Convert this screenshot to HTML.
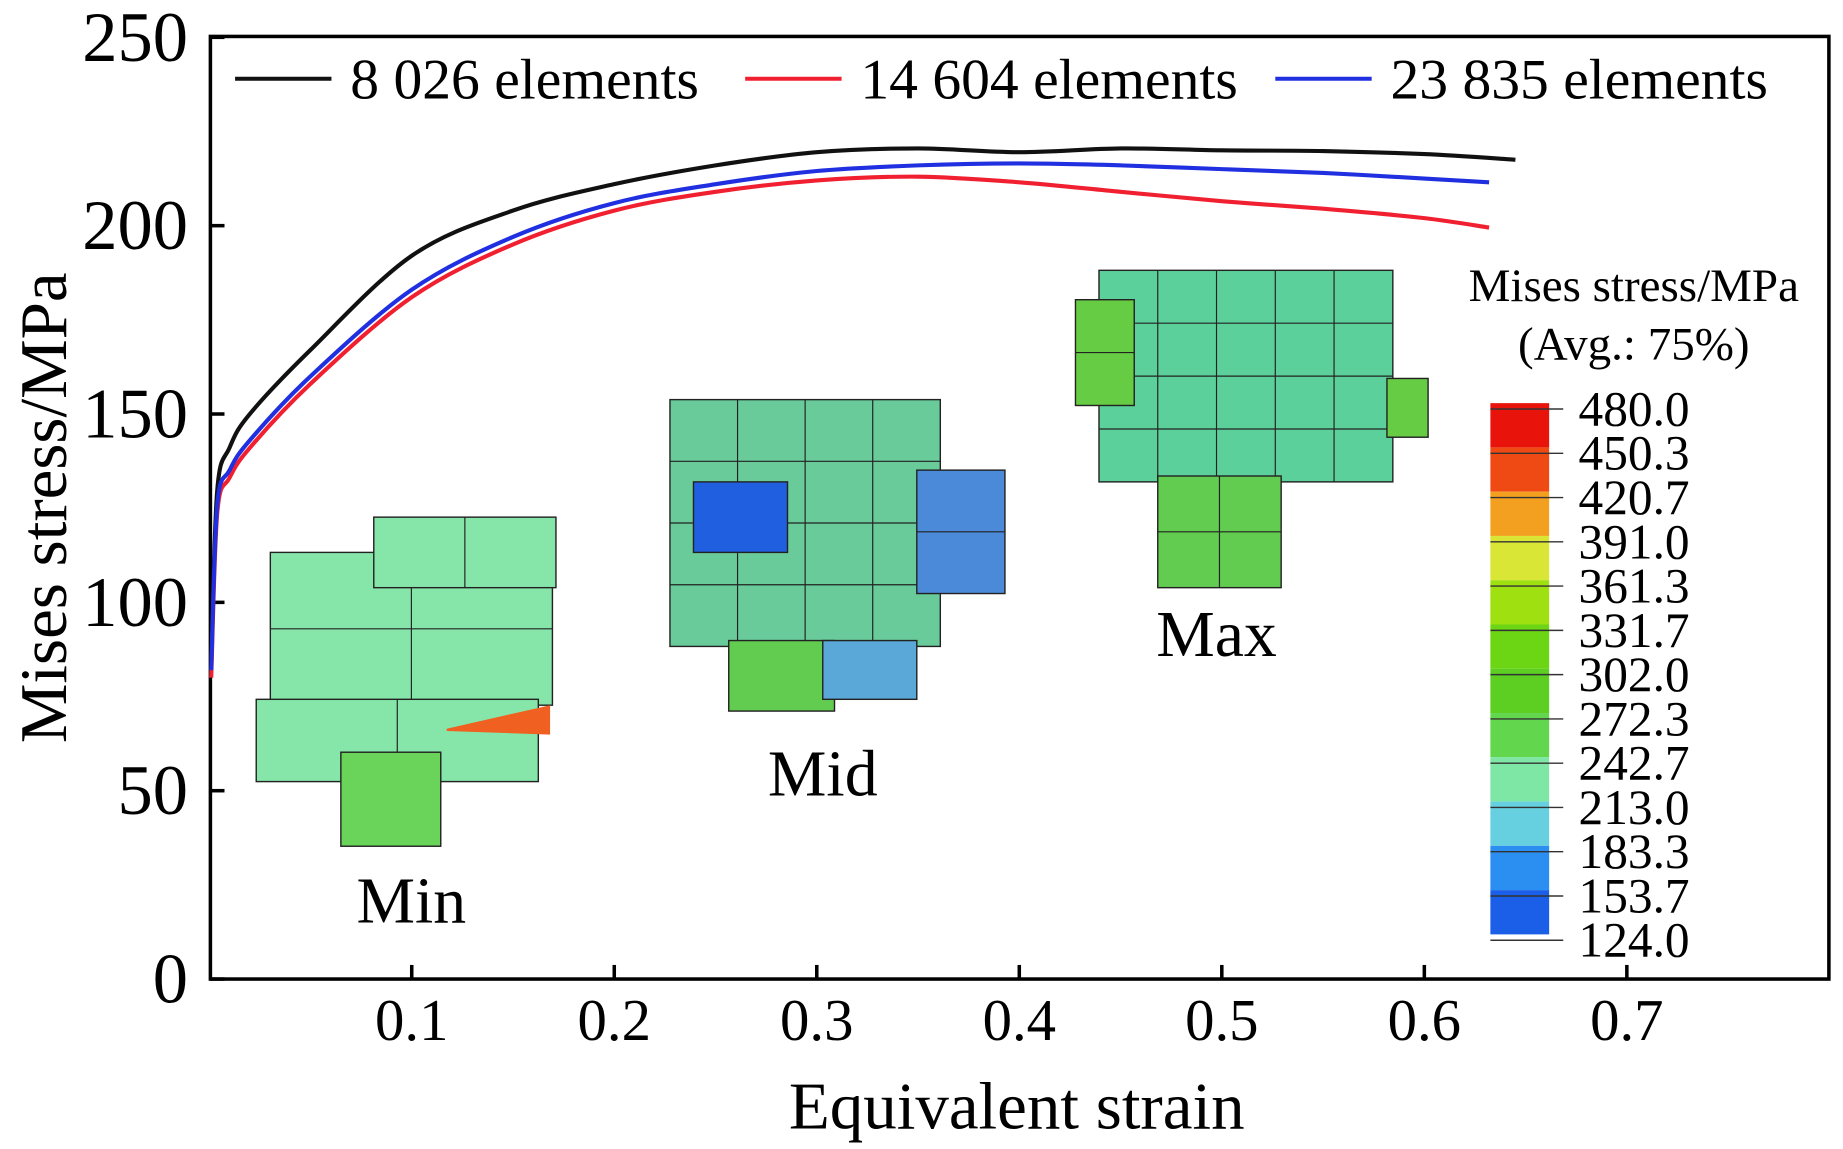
<!DOCTYPE html>
<html><head><meta charset="utf-8"><style>
html,body{margin:0;padding:0;background:#fff;}
svg{display:block;font-family:"Liberation Serif",serif;}
</style></head><body>
<svg id="chart" width="1843" height="1149" viewBox="0 0 1568 977.6" preserveAspectRatio="none" xmlns="http://www.w3.org/2000/svg">
<g id="insets"></g>
<g id="axes"></g>
<g id="lines"></g>
<g id="legend"></g>
<g id="colorbar"></g>
</svg>
<script>
const xTicks=[0.1,0.2,0.3,0.4,0.5,0.6,0.7];
const yTicks=[0,50,100,150,200,250];
const strainBlack=[0.001,0.004,0.01,0.02,0.05,0.1,0.15,0.2,0.25,0.3,0.35,0.4,0.45,0.5,0.55,0.6,0.645];
const stressBlack=[85,130,141,150,167,192,204,211,216,219.5,220.5,219.5,220.5,220,219.8,219,217.5];
const strainRed=[0.001,0.004,0.01,0.02,0.05,0.1,0.15,0.2,0.25,0.3,0.35,0.4,0.45,0.5,0.55,0.6,0.632];
const stressRed=[80,124,133,141,158,181,195,204,209,212,213,211.5,209,206.5,204.5,202,199.5];
const strainBlue=[0.001,0.004,0.01,0.02,0.05,0.1,0.15,0.2,0.25,0.3,0.35,0.4,0.45,0.5,0.55,0.6,0.632];
const stressBlue=[82,126,135,143,160,183,197,206,211,214.5,216,216.5,216,215,214,212.5,211.5];
const seriesNames=["8 026 elements","14 604 elements","23 835 elements"];
const cbLabels=["480.0","450.3","420.7","391.0","361.3","331.7","302.0","272.3","242.7","213.0","183.3","153.7","124.0"];
const cbColors=["#e8140c","#f04a14","#f3a020","#d9e636","#9fe010","#6cd514","#5ccf22","#62d64c","#7fe7a6","#66cfe0","#2a8ff0","#1b5fe8","#1038c8"];

const NS="http://www.w3.org/2000/svg";
const X0=178,XS=1723,Y0=833,YS=3.205;
const sx=v=>X0+v*XS, sy=v=>Y0-v*YS;
function mk(tag,attrs,parent,text){const e=document.createElementNS(NS,tag);for(const k in attrs)e.setAttribute(k,attrs[k]);if(text!==undefined)e.textContent=text;parent.appendChild(e);return e;}
const axes=document.getElementById('axes');
let f=mk('rect',{x:179,y:31,width:1377,height:802,fill:'none',stroke:'#000','stroke-width':3},axes);


xTicks.forEach(t=>{
 let l=mk('line',{x1:sx(t),x2:sx(t),y1:833,y2:821,stroke:'#000','stroke-width':3},axes);
 
 
 let tx=mk('text',{x:sx(t),y:885,'font-size':50,'text-anchor':'middle'},axes,String(t));
 
 
});
yTicks.forEach(t=>{
 let l=mk('line',{x1:179,x2:191,y1:sy(t),y2:sy(t),stroke:'#000','stroke-width':3},axes);
 
 
 let tx=mk('text',{x:160,y:sy(t)+20,'font-size':60,'text-anchor':'end'},axes,String(t));
 
 
});
let xt=mk('text',{x:865,y:960,'font-size':57,'text-anchor':'middle'},axes,'Equivalent strain');


let yt=mk('text',{x:0,y:0,'font-size':57,'text-anchor':'middle',transform:'translate(56,432) rotate(-90)'},axes,'Mises stress/MPa');



function smooth(pts){
 let d='M'+pts[0][0].toFixed(1)+','+pts[0][1].toFixed(1);
 for(let i=0;i<pts.length-1;i++){
  const p0=pts[Math.max(0,i-1)],p1=pts[i],p2=pts[i+1],p3=pts[Math.min(pts.length-1,i+2)];
  const c1=[p1[0]+(p2[0]-p0[0])/6,p1[1]+(p2[1]-p0[1])/6];
  const c2=[p2[0]-(p3[0]-p1[0])/6,p2[1]-(p3[1]-p1[1])/6];
  d+=' C'+c1[0].toFixed(1)+','+c1[1].toFixed(1)+' '+c2[0].toFixed(1)+','+c2[1].toFixed(1)+' '+p2[0].toFixed(1)+','+p2[1].toFixed(1);
 }
 return d;
}
const lines=document.getElementById('lines');
const sets=[[strainBlack,stressBlack,'#111','series-8026'],[strainRed,stressRed,'#f02030','series-14604'],[strainBlue,stressBlue,'#2030e0','series-23835']];
sets.forEach(([xs,ys,c,n])=>{
 const pts=xs.map((x,i)=>[sx(x),sy(ys[i])]);
 let p=mk('path',{d:smooth(pts),fill:'none',stroke:c,'stroke-width':3.5,'stroke-linejoin':'round'},lines);
 
 
});
const lg=document.getElementById('legend');
const lgX=[200,634,1085];
seriesNames.forEach((s,i)=>{
 let l=mk('line',{x1:lgX[i],x2:lgX[i]+82,y1:67,y2:67,stroke:sets[i][2],'stroke-width':3.5},lg);
 
 
 let t=mk('text',{x:lgX[i]+98,y:84,'font-size':49},lg,s);
 
 
});
const cb=document.getElementById('colorbar');
let ct=mk('text',{x:1390,y:256,'font-size':40,'text-anchor':'middle'},cb,'Mises stress/MPa');


let ct2=mk('text',{x:1390,y:306,'font-size':40,'text-anchor':'middle'},cb,'(Avg.: 75%)');


const cbTop=343,cbH=452/12;
cbColors.forEach((c,i)=>{
 if(i<12){let r=mk('rect',{x:1268,y:cbTop+i*cbH,width:50,height:cbH,fill:cbColors[i]},cb);
 
 }
});
cbLabels.forEach((s,i)=>{
 let l=mk('line',{x1:1268,x2:1330,y1:cbTop+i*cbH+5,y2:cbTop+i*cbH+5,stroke:'#333','stroke-width':1.2},cb);
 
 
 let t=mk('text',{x:1343,y:cbTop+i*cbH+19,'font-size':42},cb,s);
 
 
});
const ins=document.getElementById('insets');
function block(x,y,w,h,cols,rows,fill,name){
 const g=mk('g',{},ins);
 
 
 mk('rect',{x:x,y:y,width:w,height:h,fill:fill,stroke:'#222','stroke-width':1.2},g);
 for(let i=1;i<cols;i++)mk('line',{x1:x+i*w/cols,x2:x+i*w/cols,y1:y,y2:y+h,stroke:'#222','stroke-width':1},g);
 for(let j=1;j<rows;j++)mk('line',{x1:x,x2:x+w,y1:y+j*h/rows,y2:y+j*h/rows,stroke:'#222','stroke-width':1},g);
}
block(230,470,240,130,2,2,'#86e6aa','min-mesh');
block(318,440,155,60,2,1,'#86e6aa','min-mesh-top');
block(218,595,240,70,2,1,'#86e6aa','min-mesh-lower');
block(290,640,85,80,1,1,'#6ad45a','min-mesh-foot');
mk('polygon',{points:'380,620 468,600 468,625 380,622',fill:'#f06020'},ins);
block(570,340,230,210,4,4,'#6acb9a','mid-mesh');
block(590,410,80,60,1,1,'#2060e0','mid-blue-1');
block(780,400,75,105,1,2,'#4a8ad8','mid-blue-2');
block(620,545,90,60,1,1,'#62cc50','mid-mesh-foot');
block(700,545,80,50,1,1,'#5aa8d8','mid-mesh-foot2');
block(935,230,250,180,5,4,'#5cd09a','max-mesh');
block(915,255,50,90,1,2,'#66cc44','max-mesh-left');
block(1180,322,35,50,1,1,'#66cc44','max-mesh-right');
block(985,405,105,95,2,2,'#62cc50','max-mesh-foot');
let lb=[['Min',350,785],['Mid',700,677],['Max',1035,558]];
lb.forEach(([s,x,y])=>{let t=mk('text',{x:x,y:y,'font-size':56,'text-anchor':'middle'},ins,s);
 
 });
</script>
</body></html>
